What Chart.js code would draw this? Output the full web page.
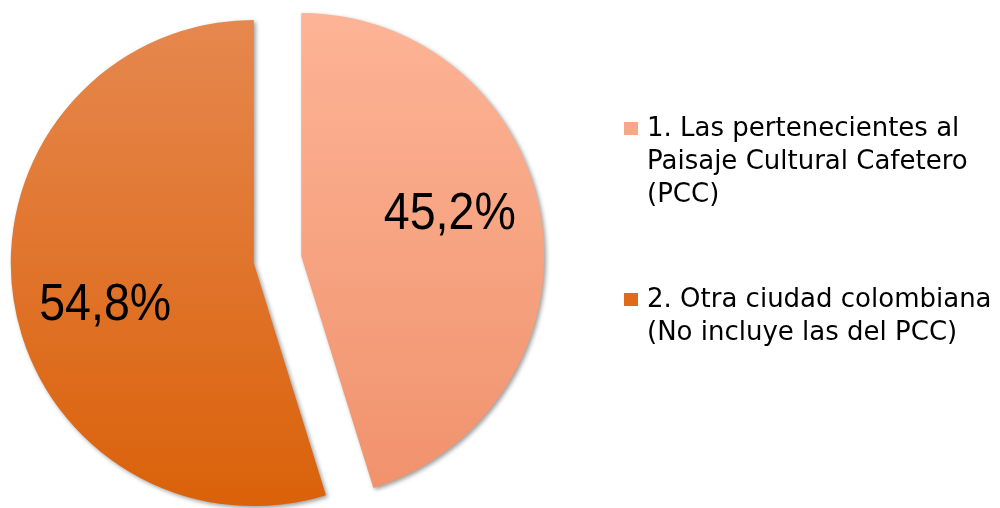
<!DOCTYPE html>
<html>
<head>
<meta charset="utf-8">
<script src="https://cdn.jsdelivr.net/npm/chart.js@4"></script>
<style>
html,body{margin:0;padding:0;background:#fff;overflow:hidden;}
#wrap{position:relative;width:1000px;height:508px;}
</style>
</head>
<body>
<div id="wrap"><canvas id="c" width="1000" height="508"></canvas></div>
<script>
// ---- data ----
const categories = [
  "1. Las pertenecientes al Paisaje Cultural Cafetero (PCC)",
  "2. Otra ciudad colombiana (No incluye las del PCC)"
];
const legendLines = [
  ["1. Las pertenecientes al", "Paisaje Cultural Cafetero", "(PCC)"],
  ["2. Otra ciudad colombiana", "(No incluye las del PCC)"]
];
const values = [45.2, 54.8];
const valueLabels = ["45,2%", "54,8%"];

// ---- styles ----
const gradStops = [
  ["#FDB496", "#F0916B"],
  ["#E6884F", "#DA6109"]
];
const swatchColors = ["#F8A787", "#E16A19"];
const EXPLODE = 24;   // px each slice is pulled out along its mid-angle
const RADIUS = 243;

function sliceGradient(context) {
  const chart = context.chart;
  const i = context.dataIndex;
  const ca = chart.chartArea;
  if (!ca) return gradStops[i][1];
  const cy = (ca.top + ca.bottom) / 2;
  const r = RADIUS + 6;
  const g = chart.ctx.createLinearGradient(0, cy - r, 0, cy + r);
  g.addColorStop(0, gradStops[i][0]);
  g.addColorStop(1, gradStops[i][1]);
  return g;
}

// draw each arc element of the library, pulled out along its mid-angle
const explodePlugin = {
  id: 'explode',
  beforeDatasetsDraw(chart) {
    const ctx = chart.ctx;
    const meta = chart.getDatasetMeta(0);
    ctx.save();
    ctx.shadowColor = 'rgba(0,0,0,0.38)';
    ctx.shadowBlur = 4;
    ctx.shadowOffsetX = 2;
    ctx.shadowOffsetY = 2;
    meta.data.forEach((arc) => {
      const mid = (arc.startAngle + arc.endAngle) / 2;
      ctx.save();
      ctx.translate(Math.cos(mid) * EXPLODE, Math.sin(mid) * EXPLODE);
      arc.draw(ctx, chart.chartArea);
      ctx.restore();
    });
    ctx.restore();
    return false;
  }
};

const labelPlugin = {
  id: 'vlabels',
  afterDraw(chart) {
    const ctx = chart.ctx;
    const meta = chart.getDatasetMeta(0);
    meta.data.forEach((arc, i) => {
      const mid = (arc.startAngle + arc.endAngle) / 2;
      const cx = arc.x + Math.cos(mid) * EXPLODE;
      const cy = arc.y + Math.sin(mid) * EXPLODE;
      const a = mid - 7 * Math.PI / 180;
      const d = arc.outerRadius * 0.635;
      const x = cx + Math.cos(a) * d;
      const y = cy + Math.sin(a) * d;
      ctx.save();
      ctx.font = '51px "Liberation Sans", Arial, sans-serif';
      const w = ctx.measureText(valueLabels[i]).width;
      ctx.translate(x, y);
      ctx.scale(132 / w, 1);
      ctx.fillStyle = '#000';
      ctx.textAlign = 'center';
      ctx.textBaseline = 'alphabetic';
      ctx.fillText(valueLabels[i], 0, 15);
      ctx.restore();
    });
  }
};

const legendPlugin = {
  id: 'legendDraw',
  afterDraw(chart) {
    const ctx = chart.ctx;
    const startY = [136, 307];
    ctx.save();
    ctx.font = '26px "DejaVu Sans", sans-serif';
    ctx.textBaseline = 'alphabetic';
    legendLines.forEach((lines, i) => {
      ctx.fillStyle = swatchColors[i];
      ctx.fillRect(624, startY[i] - 14, 14, 13);
      ctx.fillStyle = '#000';
      lines.forEach((t, j) => {
        ctx.fillText(t, 647, startY[i] + j * 33);
      });
    });
    ctx.restore();
  }
};

const chart = new Chart(document.getElementById('c'), {
  type: 'pie',
  data: {
    labels: categories,
    datasets: [{
      data: values,
      backgroundColor: sliceGradient,
      borderWidth: 0,
      offset: 0,
      hoverOffset: 0
    }]
  },
  options: {
    responsive: false,
    animation: false,
    radius: RADIUS,
    layout: { padding: { left: 0, right: 445, top: 11, bottom: 0 } },
    plugins: {
      legend: { display: false },
      tooltip: { enabled: false }
    }
  },
  plugins: [explodePlugin, labelPlugin, legendPlugin]
});
chart.update();
</script>
</body>
</html>
